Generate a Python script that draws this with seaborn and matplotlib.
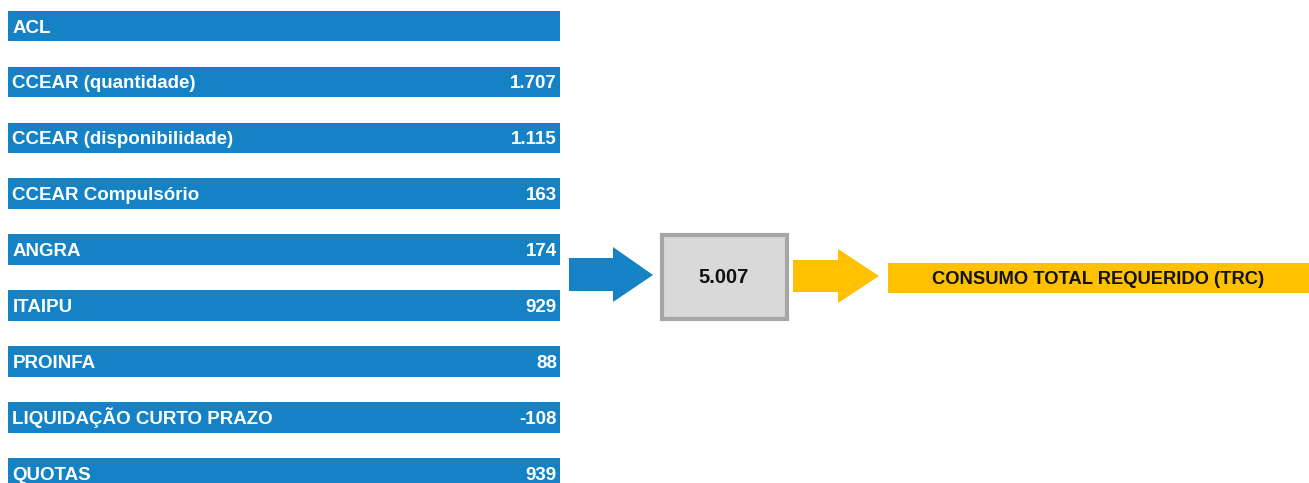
import matplotlib
matplotlib.use("Agg")
import matplotlib.pyplot as plt
from matplotlib.patches import Rectangle, Polygon
import seaborn as sns
import pandas as pd

categories = ["ACL", "CCEAR (quantidade)", "CCEAR (disponibilidade)", "CCEAR Compulsório",
              "ANGRA", "ITAIPU", "PROINFA", "LIQUIDAÇÃO CURTO PRAZO", "QUOTAS"]
values = [None, 1707, 1115, 163, 174, 929, 88, -108, 939]
result_label = "CONSUMO TOTAL REQUERIDO (TRC)"

BLUE = "#1482C5"
YELLOW = "#FFC000"

def fmt(v):
    return f"{v:,}".replace(",", ".")

total = sum(v for v in values if v is not None)

sns.set_theme(style="white")
plt.rcParams["font.family"] = ["Liberation Sans", "DejaVu Sans"]

W, H = 1309, 483
ROW = 55.9
fig = plt.figure(figsize=(W / 100, H / 100), dpi=100)
ax = fig.add_axes([0, 0, 1, 1])

df = pd.DataFrame({"cat": categories, "span": [552] * len(categories)})
sns.barplot(data=df, y="cat", x="span", orient="h", color=BLUE, saturation=1,
            width=30.5 / ROW, linewidth=0, ax=ax)
ax.set_xlim(-8, W - 8)
ax.set_ylim((H - 26) / ROW, -26 / ROW)
ax.axis("off")

base = 6.5 / ROW
for i, (c, v) in enumerate(zip(categories, values)):
    ax.text(4.5, i + base, c, color="white", fontsize=13.5, fontweight="bold",
            ha="left", va="baseline")
    if v is not None:
        ax.text(549, i + base, fmt(v), color="white", fontsize=13.5, fontweight="bold",
                ha="right", va="baseline")

# overlay axes in pixel coordinates
ax2 = fig.add_axes([0, 0, 1, 1])
ax2.set_xlim(0, W)
ax2.set_ylim(H, 0)
ax2.axis("off")
ax2.patch.set_alpha(0)

# blue arrow
ax2.add_patch(Polygon([(569, 258), (613, 258), (613, 247), (653, 275), (613, 302),
                       (613, 291), (569, 291)], closed=True, color=BLUE, lw=0))
# total box
ax2.add_patch(Rectangle((662, 235), 125, 84, facecolor="#D9D9D9",
                        edgecolor="#A6A6A6", lw=3))
ax2.text(724, 283, fmt(total), fontsize=14.5, fontweight="bold", color="#111111",
         ha="center", va="baseline")
# yellow arrow
ax2.add_patch(Polygon([(793, 260), (838, 260), (838, 249), (879, 276), (838, 303),
                       (838, 292), (793, 292)], closed=True, color=YELLOW, lw=0))
# result bar
ax2.add_patch(Rectangle((888, 263), 421, 30, facecolor=YELLOW, lw=0))
ax2.text(1098, 284, result_label, fontsize=13.2, fontweight="bold", color="#111111",
         ha="center", va="baseline")

fig.savefig("out.png", dpi=100)
